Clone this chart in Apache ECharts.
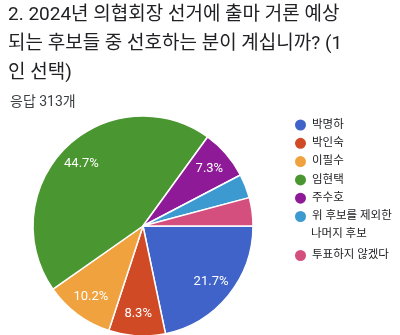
<!DOCTYPE html>
<html>
<head>
<meta charset="utf-8">
<script src="https://cdn.jsdelivr.net/npm/echarts@6/dist/echarts.min.js"></script>
<style>
html,body{margin:0;padding:0;background:#fff;}
#chart{width:400px;height:335px;}
</style>
</head>
<body>
<div id="chart"></div>
<script>
const titleText = '2. 2024년 의협회장 선거에 출마 거론 예상\n되는 후보들 중 선호하는 분이 계십니까? (1\n인 선택)';
const subtitleText = '응답 313개';
const categories = ['박명하', '박인숙', '이필수', '임현택', '주수호', '위 후보를 제외한 나머지 후보', '투표하지 않겠다'];
const counts = [68, 26, 32, 140, 23, 11, 13];
const colors = ['#3f63c8', '#d04a26', '#f0a23e', '#4a9630', '#8e1a98', '#3d9ad0', '#d44e7e'];

const FONT = "Roboto, 'Noto Sans CJK KR', sans-serif";
const total = counts.reduce((a, b) => a + b, 0);
const splitName = categories[5];
const splitFirst = '위 후보를 제외한';
const splitSecond = splitName.slice(splitFirst.length + 1);

const R = 110;
const center = [143, 226];

const chart = echarts.init(document.getElementById('chart'), null, {renderer: 'canvas'});
chart.setOption({
  backgroundColor: '#fff',
  animation: false,
  title: [
    {
      text: titleText, left: 8, top: 1, padding: 0,
      textStyle: {fontFamily: FONT, fontSize: 19, fontWeight: 'normal', color: '#202124', lineHeight: 29}
    },
    {
      text: subtitleText, left: 10, top: 93, padding: 0,
      textStyle: {fontFamily: FONT, fontSize: 14, fontWeight: 'normal', color: '#3c4043', lineHeight: 18}
    }
  ],
  legend: [
    {
      orient: 'vertical', left: 293, top: 117.5, padding: 0,
      itemWidth: 13, itemHeight: 13, itemGap: 3.3, icon: 'circle',
      data: categories.slice(0, 6),
      formatter: n => n === splitName ? splitFirst : n,
      textStyle: {fontFamily: FONT, fontSize: 11.5, color: '#202124', lineHeight: 13},
      selectedMode: false
    },
    {
      orient: 'vertical', left: 293, top: 248, padding: 0,
      itemWidth: 13, itemHeight: 13, icon: 'circle',
      data: categories.slice(6),
      textStyle: {fontFamily: FONT, fontSize: 11.5, color: '#202124', lineHeight: 13},
      selectedMode: false
    }
  ],
  graphic: [
    {
      type: 'text', left: 311, top: 228,
      style: {text: splitSecond, font: '11.5px ' + FONT, fill: '#202124'}
    }
  ],
  series: [
    {
      type: 'pie', center: center, radius: [0, R],
      startAngle: 0, clockwise: true,
      silent: true,
      label: {show: false}, labelLine: {show: false},
      itemStyle: {borderColor: '#fff', borderWidth: 1.5},
      data: categories.map((c, i) => ({name: c, value: counts[i], itemStyle: {color: colors[i]}}))
    },
    {
      type: 'pie', center: center, radius: [R * 0.54, R],
      startAngle: 0, clockwise: true,
      silent: true, z: 3,
      minShowLabelAngle: 20,
      itemStyle: {color: 'rgba(0,0,0,0)', borderWidth: 0},
      label: {
        show: true, position: 'inside', color: '#fff',
        fontFamily: FONT, fontSize: 13,
        formatter: p => (p.value / total * 100).toFixed(1) + '%'
      },
      labelLine: {show: false},
      data: categories.map((c, i) => ({name: c, value: counts[i]}))
    }
  ]
});
</script>
</body>
</html>
